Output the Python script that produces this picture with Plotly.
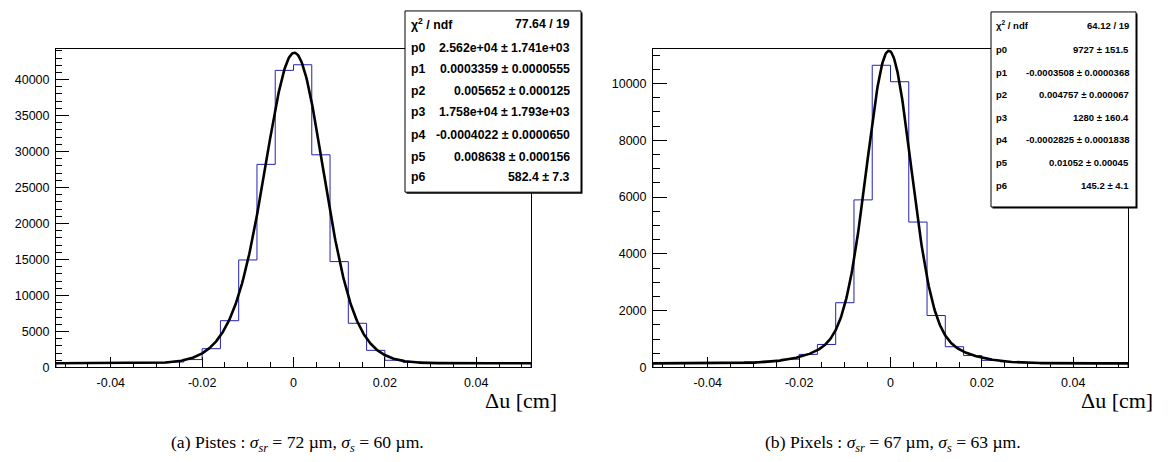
import numpy as np
import plotly.graph_objects as go

W, H = 1172, 462

# ---------------- data ----------------
bin_edges = [round(-0.052 + 0.004 * i, 3) for i in range(27)]

counts_pistes = [590, 570, 600, 580, 610, 640, 760, 1100, 2610, 6500, 14940, 28220, 41280,
                 42060, 29550, 14710, 6140, 2380, 1000, 720, 630, 600, 590, 580, 570, 560]
counts_pixels = [150, 140, 160, 150, 170, 200, 220, 290, 460, 810, 2280, 5900, 10640,
                 10060, 5120, 1830, 730, 420, 250, 200, 170, 160, 150, 150, 140, 140]

# fit parameters (double gaussian + constant), as printed in the stat boxes
fit_pistes = [2.562e4, 0.0003359, 0.005652, 1.758e4, -0.0004022, 0.008638, 582.4]
fit_pixels = [9727, -0.0003508, 0.004757, 1280, -0.0002825, 0.01052, 145.2]

stat_labels = ["χ<sup>2</sup> / ndf", "p0", "p1", "p2", "p3", "p4", "p5", "p6"]
stat_pistes = ["77.64 / 19", "2.562e+04 ± 1.741e+03", "0.0003359 ± 0.0000555",
               "0.005652 ± 0.000125", "1.758e+04 ± 1.793e+03", "-0.0004022 ± 0.0000650",
               "0.008638 ± 0.000156", "582.4 ± 7.3"]
stat_pixels = ["64.12 / 19", "9727 ± 151.5", "-0.0003508 ± 0.0000368",
               "0.004757 ± 0.000067", "1280 ± 160.4", "-0.0002825 ± 0.0001838",
               "0.01052 ± 0.00045", "145.2 ± 4.1"]

x_ticks = [-0.04, -0.02, 0, 0.02, 0.04]
x_ticktext = ["-0.04", "-0.02", "0", "0.02", "0.04"]
yrange_pistes = [0, 44200]
yrange_pixels = [0, 11200]

caption_a = "(a) Pistes : <i>σ</i><sub><i>sr</i></sub> = 72 µm, <i>σ</i><sub><i>s</i></sub> = 60 µm."
caption_b = "(b) Pixels : <i>σ</i><sub><i>sr</i></sub> = 67 µm, <i>σ</i><sub><i>s</i></sub> = 63 µm."
axis_title = "Δu [cm]"


def px(x):
    return x / W


def py(y):
    return 1 - y / H


def hist_xy(edges, vals):
    xs = [edges[0]] + list(edges[:-1]) + [edges[-1]]
    ys = [0] + list(vals) + [0]
    return xs, ys


def fitfun(x, p):
    return (p[0] * np.exp(-0.5 * ((x - p[1]) / p[2]) ** 2)
            + p[3] * np.exp(-0.5 * ((x - p[4]) / p[5]) ** 2) + p[6])


fig = go.Figure()
xf = np.linspace(bin_edges[0], bin_edges[-1], 800)
hist_color = "rgb(35,35,175)"

for i, (cnt, par) in enumerate([(counts_pistes, fit_pistes), (counts_pixels, fit_pixels)]):
    xa = "x" if i == 0 else "x2"
    ya = "y" if i == 0 else "y2"
    hx, hy = hist_xy(bin_edges, cnt)
    fig.add_trace(go.Scatter(x=hx, y=hy, mode="lines", line=dict(color=hist_color, width=1, shape="hv"),
                             xaxis=xa, yaxis=ya, showlegend=False, hoverinfo="skip"))
    fig.add_trace(go.Scatter(x=xf, y=fitfun(xf, par), mode="lines", line=dict(color="black", width=2.6),
                             xaxis=xa, yaxis=ya, showlegend=False, hoverinfo="skip"))

tickfont = dict(family="Liberation Sans, Arial, sans-serif", size=12.5, color="black")
ydom = [py(365), py(42)]


def xaxis_cfg(x0, x1, anchor):
    return dict(domain=[px(x0), px(x1)], range=[bin_edges[0], bin_edges[-1]], anchor=anchor,
                showline=True, mirror=True, linecolor="black", linewidth=1,
                showgrid=False, zeroline=False, ticks="inside", ticklen=10, tickcolor="black",
                tickvals=x_ticks, ticktext=x_ticktext, tickfont=tickfont, ticklabelstandoff=4,
                minor=dict(dtick=0.005, tick0=0, ticks="inside", ticklen=5, tickcolor="black", showgrid=False))


def yaxis_cfg(rng, dt, mdt, anchor, tl):
    return dict(domain=ydom, range=rng, anchor=anchor,
                showline=True, mirror=True, linecolor="black", linewidth=1,
                showgrid=False, zeroline=False, ticks="inside", ticklen=tl, tickcolor="black",
                dtick=dt, tick0=0, tickformat="d", tickfont=tickfont, ticklabelstandoff=3,
                minor=dict(dtick=mdt, tick0=0, ticks="inside", ticklen=tl // 2, tickcolor="black", showgrid=False))


fig.update_layout(
    width=W, height=H, margin=dict(l=0, r=0, t=0, b=0),
    plot_bgcolor="white", paper_bgcolor="white",
    xaxis=xaxis_cfg(48, 523, "y"),
    yaxis=yaxis_cfg(yrange_pistes, 5000, 1000, "x", 13),
    xaxis2=xaxis_cfg(645, 1120, "y2"),
    yaxis2=yaxis_cfg(yrange_pixels, 2000, 500, "x2", 14),
)

shapes = []
annotations = []


def stat_box(x0, x1, y0, y1, rows_y, lab_x, val_x, values, fsize):
    shapes.append(dict(type="rect", xref="paper", yref="paper", x0=px(x0 + 1.5), x1=px(x1 + 1.5),
                       y0=py(y1 + 1.5), y1=py(y0 + 1.5), fillcolor="black",
                       line=dict(width=0), layer="above"))
    shapes.append(dict(type="rect", xref="paper", yref="paper", x0=px(x0), x1=px(x1),
                       y0=py(y1), y1=py(y0), fillcolor="white",
                       line=dict(color="black", width=1), layer="above"))
    f = dict(family="Liberation Sans, Arial, sans-serif", size=fsize, color="black")
    for lab, val, yy in zip(stat_labels, values, rows_y):
        annotations.append(dict(x=px(lab_x), y=py(yy), xref="paper", yref="paper", text="<b>%s</b>" % lab,
                                showarrow=False, xanchor="left", yanchor="middle", font=f))
        annotations.append(dict(x=px(val_x), y=py(yy), xref="paper", yref="paper", text="<b>%s</b>" % val,
                                showarrow=False, xanchor="right", yanchor="middle", font=f))


stat_box(397, 573, 3, 187, [16, 40.5, 62, 84, 106, 128.5, 151, 172], 401, 564, stat_pistes, 12.3)
stat_box(983, 1128, 4, 202, [17.5, 42.5, 65, 88, 111, 134, 157, 180], 986, 1123, stat_pixels, 9.5)

serif = dict(family="Liberation Serif, Times New Roman, serif", color="black")
annotations.append(dict(x=px(551), y=py(399), xref="paper", yref="paper", text=axis_title, showarrow=False,
                        xanchor="right", yanchor="middle", font=dict(size=22, **serif)))
annotations.append(dict(x=px(1147), y=py(399), xref="paper", yref="paper", text=axis_title, showarrow=False,
                        xanchor="right", yanchor="middle", font=dict(size=22, **serif)))
annotations.append(dict(x=px(289), y=py(442), xref="paper", yref="paper", text=caption_a, showarrow=False,
                        xanchor="center", yanchor="middle", font=dict(size=17.6, **serif)))
annotations.append(dict(x=px(885), y=py(442), xref="paper", yref="paper", text=caption_b, showarrow=False,
                        xanchor="center", yanchor="middle", font=dict(size=17.6, **serif)))

fig.update_layout(shapes=shapes, annotations=annotations)
fig.write_html("out.html")
